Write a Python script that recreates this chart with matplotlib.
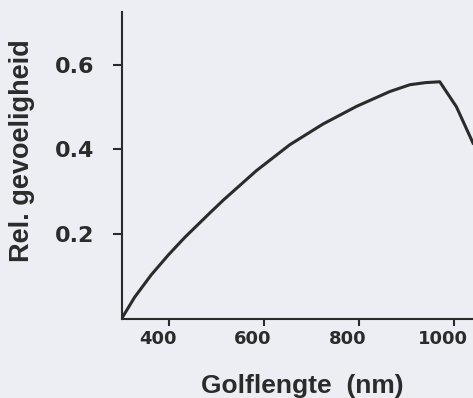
import matplotlib
matplotlib.use("Agg")
import matplotlib.pyplot as plt
from matplotlib.transforms import ScaledTranslation

# relative sensitivity vs wavelength
wavelength_nm = [300, 327, 362, 398, 433, 486, 514, 584, 654, 724, 795, 865, 907, 940, 970, 1005, 1040]
rel_sensitivity = [0.0, 0.050, 0.103, 0.150, 0.192, 0.250, 0.280, 0.350, 0.411, 0.460, 0.502,
                   0.537, 0.553, 0.558, 0.560, 0.501, 0.415]

x_ticks = [400, 600, 800, 1000]
y_ticks = [0.2, 0.4, 0.6]

bg = "#eceef3"
ink = "#2b2b2b"

fig = plt.figure(figsize=(4.73, 3.98), dpi=100, facecolor=bg)
ax = fig.add_axes([0.2573, 0.1997, 0.7427, 0.7701], facecolor=bg)

ax.plot(wavelength_nm, rel_sensitivity, color=ink, lw=2.2, solid_joinstyle="round")

ax.set_xlim(300, 1040)
ax.set_ylim(0, 0.725)

for side in ("top", "right"):
    ax.spines[side].set_visible(False)
for side in ("left", "bottom"):
    ax.spines[side].set_color(ink)
    ax.spines[side].set_linewidth(1.5)

ax.set_xticks(x_ticks)
ax.set_xticklabels([str(t) for t in x_ticks], fontsize=13, fontweight="bold",
                   family="DejaVu Sans", color=ink)
ax.set_yticks(y_ticks)
ax.set_yticklabels([f"{t:.1f}" for t in y_ticks], fontsize=16, fontweight="bold",
                   family="DejaVu Sans", color=ink)
ax.tick_params(axis="x", direction="out", length=5, width=1.5, color=ink, pad=3)
ax.tick_params(axis="y", direction="out", length=6.5, width=1.5, color=ink, pad=13)

# x labels sit a little left of their ticks
shift = ScaledTranslation(-11 / 100, 0, fig.dpi_scale_trans)
for lbl in ax.get_xticklabels():
    lbl.set_transform(lbl.get_transform() + shift)

fig.text(0.0465, 0.6206, "Rel. gevoeligheid", rotation=90, ha="center", va="center",
         fontsize=19.5, fontweight="bold", family="Liberation Sans", color=ink)
fig.text(0.64, 0.03, "Golflengte  (nm)", ha="center", va="center",
         fontsize=19, fontweight="bold", family="Liberation Sans", color=ink)

fig.savefig("out.png", dpi=100, facecolor=bg)
